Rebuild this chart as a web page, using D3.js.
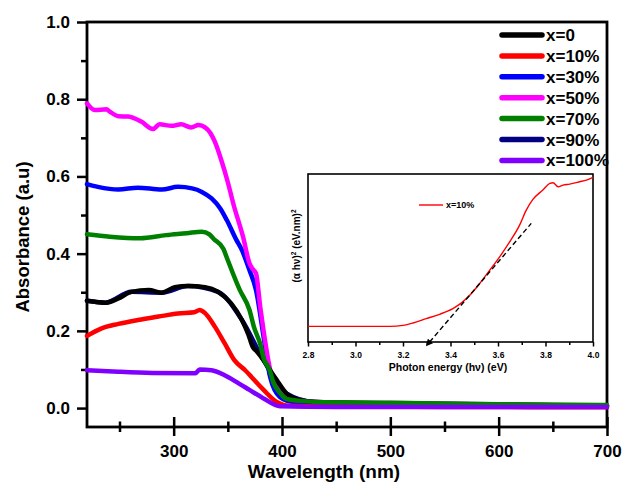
<!DOCTYPE html>
<html>
<head>
<meta charset="utf-8">
<script src="https://cdn.jsdelivr.net/npm/d3@7"></script>
<style>
  body { margin: 0; background: #fff; }
  text { font-family: "Liberation Sans", Arial, sans-serif; font-weight: bold; fill: #000; }
</style>
</head>
<body>
<svg id="chart" width="624" height="484"></svg>
<script>
'use strict';

// absorbance spectra, [wavelength nm, absorbance a.u.]
var absX0 = [[220,0.278],[229,0.275],[237,0.273],[249,0.284],[261,0.301],[277,0.306],[289,0.299],[301,0.313],[313,0.316],[329,0.313],[341,0.301],[353,0.271],[363,0.228],[369,0.19],[373,0.158],[377,0.146],[383,0.124],[389,0.098],[395,0.073],[404,0.038],[416,0.021],[430,0.016],[500,0.012],[600,0.009],[700,0.006]];
var absX10 = [[220,0.187],[233,0.206],[249,0.218],[267,0.228],[286,0.237],[304,0.245],[319,0.248],[324,0.254],[329,0.246],[338,0.211],[347,0.168],[356,0.124],[366,0.098],[372,0.08],[383,0.047],[395,0.016],[407,0.006],[450,0.004],[550,0.003],[700,0.002]];
var absX30 = [[220,0.580],[230,0.573],[249,0.566],[267,0.571],[289,0.566],[304,0.573],[317,0.569],[326,0.560],[335,0.543],[343,0.517],[349,0.487],[358,0.435],[363,0.409],[370,0.357],[376,0.306],[383,0.185],[389,0.081],[398,0.029],[410,0.016],[450,0.011],[550,0.008],[700,0.005]];
var absX50 = [[220,0.789],[227,0.772],[238,0.774],[241,0.768],[249,0.756],[258,0.755],[270,0.742],[281,0.723],[287,0.735],[298,0.731],[307,0.735],[316,0.727],[323,0.733],[329,0.727],[334,0.712],[338,0.690],[344,0.642],[350,0.585],[355,0.530],[364,0.444],[370,0.375],[373,0.360],[376,0.349],[380,0.260],[383,0.200],[389,0.100],[396,0.050],[404,0.029],[432,0.016],[536,0.012],[700,0.006]];
var absX70 = [[220,0.450],[241,0.444],[269,0.440],[293,0.448],[312,0.453],[326,0.457],[333,0.450],[337,0.438],[346,0.412],[349,0.390],[361,0.306],[370,0.254],[374,0.211],[380,0.165],[383,0.130],[389,0.095],[392,0.066],[398,0.040],[404,0.024],[420,0.018],[432,0.016],[500,0.014],[600,0.010],[700,0.008]];
var absX90 = [[220,0.278],[237,0.273],[261,0.301],[289,0.299],[313,0.316],[341,0.301],[363,0.228],[383,0.124],[404,0.038],[430,0.016],[700,0.006]];
var absX100 = [[220,0.098],[249,0.094],[280,0.091],[320,0.090],[324,0.100],[335,0.098],[347,0.085],[360,0.064],[370,0.047],[383,0.025],[398,0.005],[450,0.003],[700,0.003]];

var legendLabels = ['x=0', 'x=10%', 'x=30%', 'x=50%', 'x=70%', 'x=90%', 'x=100%'];
var seriesColors = ['#000000', '#ff0000', '#0000ff', '#ff00ff', '#008000', '#000080', '#8000ff'];
var seriesData = [absX0, absX10, absX30, absX50, absX70, absX90, absX100];
// drawing order, last on top
var drawOrder = [5, 2, 3, 0, 1, 4, 6];

var xMajorTicks = [300, 400, 500, 600, 700];
var xMinorTicks = [250, 350, 450, 550, 650];
var yMajorTicks = [0.0, 0.2, 0.4, 0.6, 0.8, 1.0];
var yMinorTicks = [0.1, 0.3, 0.5, 0.7, 0.9];

// Tauc plot inset, [photon energy eV, (alpha h nu)^2 normalised]
var taucX10 = [[2.8,0.093],[3.144,0.093],[3.2,0.099],[3.242,0.113],[3.298,0.139],[3.354,0.165],[3.41,0.199],[3.446,0.233],[3.481,0.278],[3.523,0.348],[3.565,0.427],[3.607,0.507],[3.649,0.596],[3.691,0.696],[3.719,0.785],[3.747,0.849],[3.789,0.905],[3.818,0.944],[3.832,0.948],[3.853,0.924],[3.874,0.934],[3.902,0.940],[3.944,0.954],[3.972,0.964],[4.0,0.980]];
var taucFit = [[3.312,0.0],[3.74,0.706]];
var insetMajorTicks = [2.8, 3.0, 3.2, 3.4, 3.6, 3.8, 4.0];
var insetMinorTicks = [2.9, 3.1, 3.3, 3.5, 3.7, 3.9];

var svg = d3.select('#chart');

var x = d3.scaleLinear().domain([220, 700]).range([87, 607]);
var y = d3.scaleLinear().domain([-0.049, 1.0]).range([427, 22]);

// axes
var xAxis = svg.append('g')
  .attr('transform', 'translate(0,427)')
  .call(d3.axisBottom(x).tickValues(xMajorTicks).tickSize(9).tickPadding(9).tickFormat(d3.format('d')));
xAxis.selectAll('.tick line').attr('y1', -10).attr('y2', 9).attr('stroke-width', 2.5);
xAxis.selectAll('.tick text').style('font-size', '17px');

var xMinor = svg.append('g')
  .attr('transform', 'translate(0,427)')
  .call(d3.axisBottom(x).tickValues(xMinorTicks).tickSize(5).tickFormat(''));
xMinor.selectAll('.tick line').attr('y1', -5.5).attr('stroke-width', 2.5);

var yAxis = svg.append('g')
  .attr('transform', 'translate(87,0)')
  .call(d3.axisLeft(y).tickValues(yMajorTicks).tickSize(10).tickPadding(7).tickFormat(d3.format('.1f')));
yAxis.selectAll('.tick line').attr('stroke-width', 2.5);
yAxis.selectAll('.tick text').style('font-size', '17px');

var yMinor = svg.append('g')
  .attr('transform', 'translate(87,0)')
  .call(d3.axisLeft(y).tickValues(yMinorTicks).tickSize(6).tickFormat(''));
yMinor.selectAll('.tick line').attr('stroke-width', 2.5);

svg.selectAll('.domain').remove();

svg.append('rect')
  .attr('x', x(220)).attr('y', y(1.0))
  .attr('width', x(700) - x(220)).attr('height', y(-0.049) - y(1.0))
  .attr('fill', 'none').attr('stroke', '#000').attr('stroke-width', 2.8);

// curves
var line = d3.line()
  .x(function(d) { return x(d[0]); })
  .y(function(d) { return y(d[1]); })
  .curve(d3.curveMonotoneX);

drawOrder.forEach(function(i) {
  svg.append('path')
    .datum(seriesData[i])
    .attr('d', line)
    .attr('fill', 'none')
    .attr('stroke', seriesColors[i])
    .attr('stroke-width', 4.5)
    .attr('stroke-linejoin', 'round')
    .attr('stroke-linecap', 'round');
});

// legend
var legend = svg.append('g');
legendLabels.forEach(function(label, i) {
  var ly = 35 + i * 20.9;
  legend.append('line')
    .attr('x1', 502).attr('x2', 542).attr('y1', ly).attr('y2', ly)
    .attr('stroke', seriesColors[i]).attr('stroke-width', 5.5).attr('stroke-linecap', 'round');
  legend.append('text')
    .attr('x', 546).attr('y', ly + 6)
    .style('font-size', '17px')
    .text(label);
});

// axis titles
svg.append('text')
  .attr('x', 324).attr('y', 478)
  .attr('text-anchor', 'middle')
  .style('font-size', '19px')
  .text('Wavelength (nm)');

svg.append('text')
  .attr('transform', 'translate(29,237) rotate(-90)')
  .attr('text-anchor', 'middle')
  .style('font-size', '18.5px')
  .text('Absorbance (a.u)');

// inset
var xi = d3.scaleLinear().domain([2.8, 4.0]).range([308, 593]);
var yi = d3.scaleLinear().domain([0, 1]).range([342, 174]);

svg.append('rect')
  .attr('x', xi(2.8)).attr('y', yi(1))
  .attr('width', xi(4.0) - xi(2.8)).attr('height', yi(0) - yi(1))
  .attr('fill', '#fff').attr('stroke', '#000').attr('stroke-width', 1.6);

var xiAxis = svg.append('g')
  .attr('transform', 'translate(0,342)')
  .call(d3.axisBottom(xi).tickValues(insetMajorTicks).tickSize(4.5).tickPadding(5).tickFormat(d3.format('.1f')));
xiAxis.selectAll('.tick line').attr('stroke-width', 1.5);
xiAxis.selectAll('.tick text').style('font-size', '8.5px');
xiAxis.select('.domain').remove();

var xiMinor = svg.append('g')
  .attr('transform', 'translate(0,342)')
  .call(d3.axisBottom(xi).tickValues(insetMinorTicks).tickSize(3).tickFormat(''));
xiMinor.selectAll('.tick line').attr('stroke-width', 1.5);
xiMinor.select('.domain').remove();

var taucLine = d3.line()
  .x(function(d) { return xi(d[0]); })
  .y(function(d) { return yi(d[1]); })
  .curve(d3.curveMonotoneX);

svg.append('path')
  .datum(taucX10)
  .attr('d', taucLine)
  .attr('fill', 'none')
  .attr('stroke', '#ff0000')
  .attr('stroke-width', 1.4);

svg.append('defs').append('marker')
  .attr('id', 'arrow')
  .attr('viewBox', '0 0 10 10')
  .attr('refX', 2).attr('refY', 5)
  .attr('markerWidth', 5).attr('markerHeight', 5)
  .attr('orient', 'auto-start-reverse')
  .append('path')
  .attr('d', 'M0,0L10,5L0,10z')
  .attr('fill', '#000');

svg.append('path')
  .datum(taucFit)
  .attr('d', d3.line().x(function(d) { return xi(d[0]); }).y(function(d) { return yi(d[1]); }))
  .attr('fill', 'none')
  .attr('stroke', '#000')
  .attr('stroke-width', 1.4)
  .attr('stroke-dasharray', '5,3')
  .attr('marker-start', 'url(#arrow)');

svg.append('line')
  .attr('x1', 419).attr('x2', 443).attr('y1', 205).attr('y2', 205)
  .attr('stroke', '#ff0000').attr('stroke-width', 1.4);
svg.append('text')
  .attr('x', 446).attr('y', 208)
  .style('font-size', '9px')
  .text('x=10%');

svg.append('text')
  .attr('x', 448).attr('y', 370.5)
  .attr('text-anchor', 'middle')
  .style('font-size', '10.5px')
  .text('Photon energy (h\u03bd) (eV)');

var yiTitle = svg.append('text')
  .attr('transform', 'translate(300,246) rotate(-90)')
  .attr('text-anchor', 'middle')
  .style('font-size', '10px');
yiTitle.append('tspan').text('(\u03b1 h\u03bd)');
yiTitle.append('tspan').attr('dy', -4).style('font-size', '6.5px').text('2');
yiTitle.append('tspan').attr('dy', 4).text(' (eV.nm)');
yiTitle.append('tspan').attr('dy', -4).style('font-size', '6.5px').text('2');
</script>
</body>
</html>
